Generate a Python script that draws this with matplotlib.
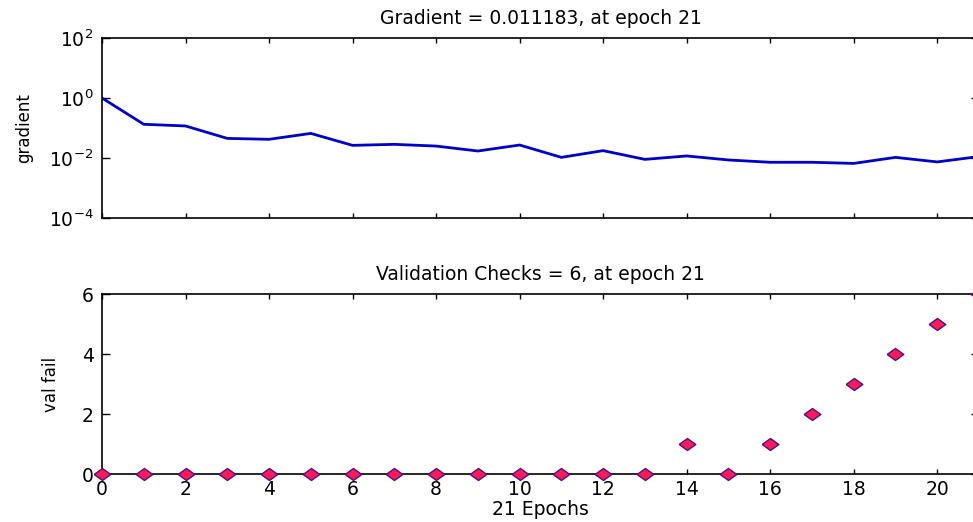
import matplotlib.pyplot as plt
import numpy as np

# training record
epochs = list(range(22))
gradient = [1.0, 0.133, 0.117, 0.045, 0.042, 0.066, 0.0264, 0.0285, 0.025, 0.0171,
            0.0271, 0.0105, 0.0176, 0.009, 0.0117, 0.0086, 0.0072, 0.0072, 0.0066,
            0.0105, 0.0074, 0.011183]
val_fail = [0, 0, 0, 0, 0, 0, 0, 0, 0, 0, 0, 0, 0, 0, 1, 0, 1, 2, 3, 4, 5, 6]

grad_title = 'Gradient = 0.011183, at epoch 21'
val_title = 'Validation Checks = 6, at epoch 21'
grad_yticks = [1e2, 1e0, 1e-2, 1e-4]
grad_yticklabels = ['$10^{2}$', '$10^{0}$', '$10^{-2}$', '$10^{-4}$']
val_yticks = [0, 2, 4, 6]
x_ticks = list(range(0, 21, 2))

plt.rcParams['font.family'] = ['DejaVu Sans']
plt.rcParams['mathtext.fontset'] = 'dejavusans'

W, H = 973, 522
fig = plt.figure(figsize=(W / 100, H / 100), dpi=100)

# axes boxes in pixels (left, top, right, bottom); right edge runs off the image
x0, x1 = 102, 979
ax1 = fig.add_axes([x0 / W, 1 - 218 / H, (x1 - x0) / W, (218 - 38) / H])
ax2 = fig.add_axes([x0 / W, 1 - 474 / H, (x1 - x0) / W, (474 - 294) / H])

# --- gradient ---
ax1.semilogy(epochs, gradient, color='#0000c8', lw=2)
ax1.set_xlim(0, 21)
ax1.set_ylim(1e-4, 1e2)
ax1.set_yticks(grad_yticks)
ax1.set_yticklabels(grad_yticklabels)
ax1.yaxis.set_minor_locator(plt.NullLocator())
ax1.set_xticks(x_ticks)
ax1.set_xticklabels([])
ax1.set_ylabel('gradient', fontsize=12)
ax1.yaxis.set_label_coords(-0.079, 0.5)
ax1.set_title(grad_title, fontsize=13.5, pad=10)

# --- validation checks ---
diamond = [(-1, 0), (0, 0.72), (1, 0), (0, -0.72), (-1, 0)]
ax2.plot(epochs, val_fail, linestyle='none', marker=diamond, markersize=12,
         markerfacecolor='#ff1a5a', markeredgecolor='#501080', markeredgewidth=1,
         clip_on=False, zorder=5)
ax2.set_xlim(0, 21)
ax2.set_ylim(0, 6)
ax2.set_yticks(val_yticks)
ax2.set_xticks(x_ticks)
ax2.set_ylabel('val fail', fontsize=12)
ax2.yaxis.set_label_coords(-0.048, 0.5)
ax2.set_title(val_title, fontsize=13.5, pad=10)
ax2.set_xlabel('21 Epochs', fontsize=13.5, labelpad=1)

for ax in (ax1, ax2):
    ax.tick_params(direction='in', top=True, right=True, width=1,
                   labelsize=13.5)
    ax.tick_params(axis='x', length=3.6, pad=4)
    ax.tick_params(axis='y', length=6, pad=6)
    for s in ax.spines.values():
        s.set_linewidth(1.2)

fig.savefig('out.png', dpi=100)
